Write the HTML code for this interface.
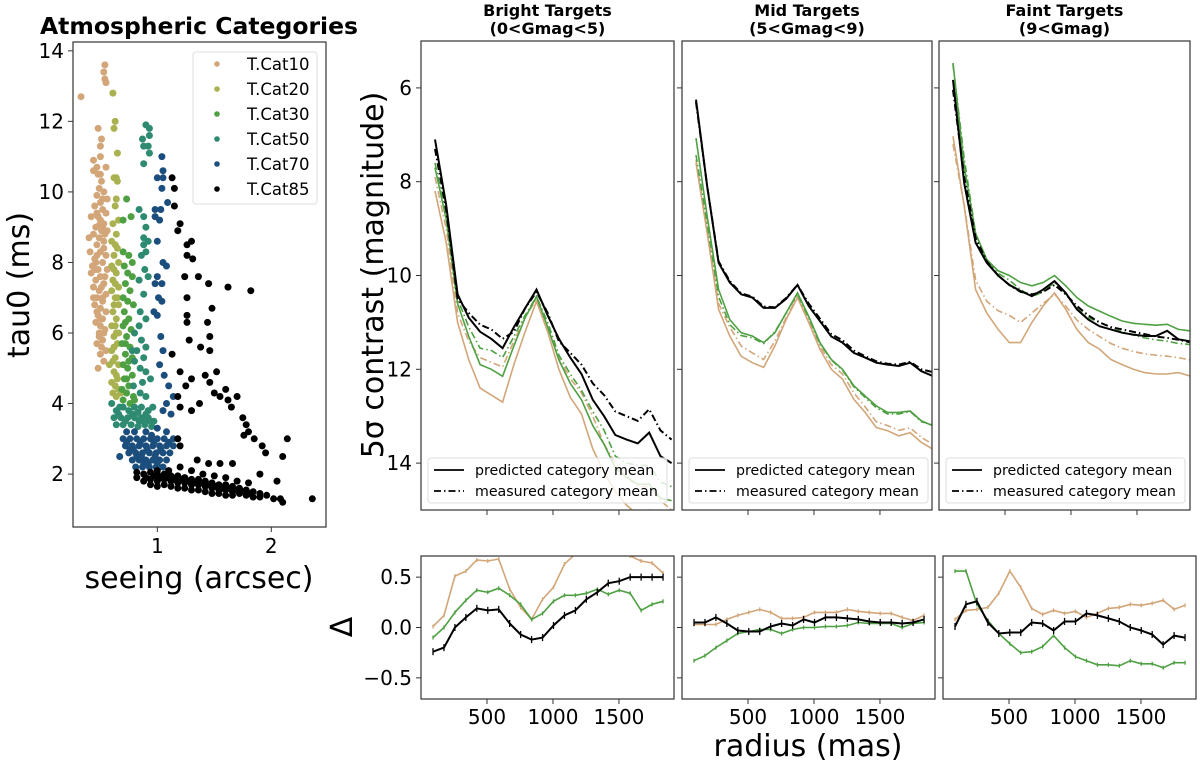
<!DOCTYPE html>
<html><head><meta charset="utf-8">
<style>
html,body{margin:0;padding:0;background:#fff;}
svg{display:block;font-family:"DejaVu Sans","Liberation Sans",sans-serif;}
</style></head>
<body>
<svg id="fig" width="1200" height="763" viewBox="0 0 1200 763" xmlns="http://www.w3.org/2000/svg"></svg>
<script>
// ---------- scatter data (seeing arcsec, tau0 ms) ----------
const catNames = ["T.Cat10","T.Cat20","T.Cat30","T.Cat50","T.Cat70","T.Cat85"];
const catColors = ["#d2a679","#a9b150","#4fa043","#2e8a70","#1c4e7d","#000000"];
const cat10 = [0.33,12.7,0.54,13.6,0.53,13.4,0.54,13.2,0.55,13.1,0.48,11.8,0.51,11.5,0.5,11.3,0.5,11.0,0.44,10.9,0.47,10.7,0.55,10.7,0.44,10.6,0.48,10.5,0.51,10.3,0.49,10.1,0.53,10.0,0.47,9.9,0.56,9.8,0.5,9.7,0.45,9.6,0.52,9.5,0.55,9.4,0.48,9.3,0.42,9.3,0.5,9.2,0.53,9.1,0.46,9.0,0.51,8.9,0.56,8.9,0.44,8.8,0.4,8.7,0.49,8.7,0.53,8.6,0.47,8.5,0.41,8.3,0.5,8.3,0.55,8.2,0.45,8.1,0.52,8.0,0.43,7.9,0.48,7.8,0.56,7.8,0.42,7.7,0.5,7.6,0.46,7.5,0.53,7.4,0.44,7.3,0.49,7.2,0.55,7.1,0.47,7.0,0.52,6.9,0.45,6.8,0.5,6.7,0.55,6.6,0.48,6.5,0.52,6.4,0.46,6.3,0.5,6.2,0.54,6.1,0.49,6.0,0.52,5.8,0.47,5.7,0.51,5.6,0.55,5.5,0.5,5.4,0.53,5.2,0.48,5.0,0.52,9.0,0.47,9.4,0.53,8.4,0.46,8.0,0.51,7.3,0.47,6.6,0.53,6.0,0.49,5.9,0.54,7.6,0.44,7.0,0.5,10.5,0.52,9.8,0.49,9.05,0.47,8.2,0.52,7.0,0.5,6.4,0.46,7.8,0.54,8.8];
const cat20 = [0.61,12.8,0.63,12.0,0.62,11.8,0.65,11.1,0.62,10.4,0.65,10.3,0.64,10.4,0.64,9.8,0.63,9.6,0.66,9.2,0.61,9.1,0.64,8.8,0.6,8.6,0.65,8.4,0.62,8.2,0.66,8.0,0.6,7.9,0.64,7.7,0.61,7.5,0.66,7.3,0.6,7.2,0.63,7.0,0.66,6.8,0.61,6.6,0.64,6.4,0.6,6.2,0.66,6.0,0.62,5.9,0.65,5.7,0.6,5.5,0.63,5.3,0.66,5.1,0.58,5.1,0.62,4.9,0.65,4.7,0.6,4.6,0.63,4.5,0.66,4.4,0.61,4.3,0.64,4.2,0.68,4.3,0.63,8.5,0.62,7.8,0.65,7.0,0.63,6.2,0.62,5.6,0.64,4.8,0.63,7.4,0.62,6.8,0.64,6.0,0.61,5.2];
const cat30 = [0.73,9.8,0.7,9.2,0.77,9.3,0.75,8.2,0.7,8.3,0.78,8.0,0.71,7.9,0.74,7.7,0.78,7.6,0.72,7.4,0.76,7.2,0.7,7.0,0.74,6.9,0.79,6.8,0.71,6.6,0.75,6.4,0.7,6.2,0.77,6.1,0.73,5.9,0.69,5.7,0.76,5.6,0.72,5.4,0.78,5.3,0.7,5.1,0.74,5.0,0.78,4.8,0.71,4.7,0.75,4.5,0.69,4.4,0.73,4.3,0.79,4.2,0.7,4.1,0.76,4.0,0.8,4.1,0.72,5.7,0.75,5.2,0.73,4.7,0.72,6.3];
const cat50 = [0.9,11.9,0.93,11.8,0.93,11.6,0.87,11.5,0.88,11.3,0.92,11.3,0.93,11.1,0.88,10.8,0.84,9.5,0.88,9.3,0.9,9.0,0.88,8.7,0.92,8.6,0.88,8.5,0.9,8.3,0.86,8.2,0.89,7.8,0.92,7.6,0.84,7.5,0.88,7.1,0.85,6.6,0.9,6.4,0.84,6.2,0.8,6.0,0.86,5.8,0.9,5.6,0.82,5.5,0.88,5.3,0.78,5.5,0.8,5.2,0.85,5.0,0.9,4.9,0.94,4.7,0.6,4.0,0.64,3.8,0.7,3.9,0.75,3.8,0.8,3.9,0.86,3.9,0.92,3.8,0.96,3.9,0.62,3.6,0.68,3.6,0.74,3.6,0.8,3.6,0.86,3.6,0.92,3.6,0.97,3.5,0.64,3.4,0.7,3.4,0.77,3.4,0.83,3.35,0.89,3.4,0.95,3.35,0.85,4.3,0.9,4.2,0.79,4.5,0.87,4.6,0.66,3.7,0.72,3.5,0.78,3.7,0.84,3.5,0.9,3.7,0.94,3.5,0.67,3.9,0.83,3.75,0.89,3.5];
const cat70 = [1.04,11.0,1.05,10.6,1.0,10.4,1.05,10.4,1.04,10.1,1.09,9.7,0.98,9.5,1.03,9.5,0.98,9.3,1.02,9.2,1.0,8.6,1.05,8.0,1.08,7.9,1.0,7.6,1.04,7.4,0.98,7.4,1.01,7.0,1.04,6.9,0.97,6.6,1.0,6.5,1.03,5.9,1.05,5.5,1.02,5.1,1.06,4.8,1.1,4.5,1.14,4.2,1.08,4.0,1.12,3.7,1.05,3.8,1.0,3.3,0.95,3.1,1.08,3.2,1.14,3.0,0.7,3.0,0.76,3.0,0.82,3.0,0.88,3.0,0.94,3.0,1.0,3.0,1.06,3.0,0.72,2.8,0.78,2.8,0.84,2.8,0.9,2.8,0.96,2.8,1.02,2.8,1.08,2.8,1.14,2.8,0.75,2.6,0.81,2.6,0.87,2.6,0.93,2.6,0.99,2.6,1.05,2.6,1.11,2.6,0.78,2.4,0.84,2.4,0.9,2.4,0.96,2.4,1.02,2.4,1.08,2.4,0.81,2.2,0.87,2.2,0.93,2.2,0.99,2.2,1.05,2.2,0.67,2.5,0.73,3.2,0.8,3.2,0.9,3.2,0.85,2.9,0.97,2.9,0.79,2.7,0.91,2.7,1.03,2.7,0.86,2.5,0.98,2.5,0.92,2.3,0.73,2.9,0.76,2.7,0.82,2.5,0.88,2.3,1.0,2.3,1.1,2.9];
const cat85 = [1.13,10.4,1.15,10.1,1.15,9.6,1.2,9.1,1.18,8.9,1.26,8.5,1.3,8.6,1.26,8.2,1.31,8.1,1.24,7.6,1.36,7.6,1.45,7.4,1.62,7.3,1.82,7.2,1.26,7.0,1.48,6.7,1.26,6.5,1.26,6.3,1.44,6.3,1.28,5.8,1.38,5.6,1.46,5.9,1.46,5.5,1.13,5.4,1.2,4.9,1.3,4.7,1.42,4.8,1.52,4.9,1.46,4.6,1.6,4.4,1.5,4.3,1.55,4.2,1.62,4.1,1.7,4.2,1.25,4.5,1.18,4.2,1.2,3.9,1.3,3.8,1.37,4.0,1.65,3.9,1.75,3.6,1.78,3.4,1.8,3.2,1.76,3.1,1.85,3.0,1.92,2.8,1.95,2.6,2.14,3.0,2.1,2.5,1.18,3.0,1.2,2.8,1.35,2.4,1.45,2.3,1.55,2.3,1.66,2.3,1.9,2.0,2.05,1.8,2.36,1.3,2.1,1.2,2.08,1.3,0.82,2.05,0.82,1.9,0.88,2.0,0.88,1.8,0.94,2.05,0.94,1.85,0.94,1.7,1.0,2.0,1.0,1.8,1.0,1.65,1.06,2.0,1.06,1.85,1.06,1.7,1.12,1.95,1.12,1.8,1.12,1.65,1.18,1.95,1.18,1.75,1.18,1.6,1.24,1.9,1.24,1.75,1.24,1.6,1.3,1.85,1.3,1.7,1.3,1.55,1.36,1.85,1.36,1.7,1.36,1.55,1.42,1.8,1.42,1.65,1.42,1.5,1.48,1.75,1.48,1.6,1.48,1.45,1.54,1.7,1.54,1.55,1.54,1.45,1.6,1.7,1.6,1.55,1.6,1.4,1.66,1.65,1.66,1.5,1.66,1.4,1.72,1.6,1.72,1.45,1.78,1.55,1.78,1.4,1.84,1.5,1.84,1.35,1.9,1.45,1.9,1.35,1.96,1.4,2.02,1.3,0.9,1.9,0.97,1.95,1.03,1.9,1.09,1.9,1.15,1.85,1.21,1.85,1.27,1.8,1.33,1.75,1.39,1.75,1.45,1.7,1.51,1.65,1.57,1.6,1.63,1.6,1.69,1.55,1.75,1.5,1.81,1.45,1.2,2.2,1.3,2.1,1.4,2.0,1.5,1.95,1.6,1.9,1.7,1.8,1.8,1.75,1.1,2.1,1.0,2.1];
const catData = [cat10,cat20,cat30,cat50,cat70,cat85];

// ---------- contrast curves ----------
const radiiTop = [106,191,277,362,448,533,618,704,789,875,960,1045,1131,1216,1302,1387,1472,1558,1643,1729,1814,1899];
const radiiBot = [91,174,257,340,423,506,589,672,755,838,921,1004,1087,1170,1253,1336,1419,1502,1585,1668,1751,1834];
const panelTitles = [["Bright Targets","(0<Gmag<5)"],["Mid Targets","(5<Gmag<9)"],["Faint Targets","(9<Gmag)"]];
const p1BlackPred = [7.1,8.5,10.4,10.9,11.2,11.35,11.55,11.1,10.7,10.3,10.85,11.35,11.75,12.1,12.65,13.0,13.4,13.5,13.58,13.35,13.85,14.0];
const p1BlackMeas = [7.3,8.6,10.5,10.8,11.05,11.15,11.35,11.2,10.7,10.35,10.8,11.4,11.65,11.9,12.3,12.55,12.9,13.0,13.1,12.85,13.3,13.5];
const p1GreenPred = [7.7,8.8,10.6,11.3,11.9,12.0,12.15,11.5,10.9,10.45,11.1,11.8,12.3,12.65,13.2,13.6,14.1,14.3,14.45,14.45,14.75,14.8];
const p1GreenMeas = [7.6,8.7,10.5,11.1,11.55,11.6,11.75,11.3,10.85,10.45,11.0,11.7,12.1,12.45,12.9,13.3,13.85,14.0,14.05,14.05,14.4,14.5];
const p1TanPred = [8.2,9.3,11.0,11.8,12.4,12.55,12.7,11.9,11.2,10.55,11.2,12.0,12.6,12.95,13.7,14.2,14.6,14.9,15.1,15.0,15.4,15.6];
const p1TanMeas = [7.9,9.0,10.8,11.4,11.75,11.85,11.95,11.4,10.9,10.5,11.05,11.75,12.2,12.5,13.0,13.6,14.0,14.3,14.5,14.5,14.8,15.0];
const p2BlackPred = [6.25,8.1,9.73,10.15,10.4,10.47,10.69,10.69,10.5,10.2,10.65,10.97,11.3,11.43,11.65,11.75,11.86,11.9,11.93,11.86,12.04,12.14];
const p2BlackMeas = [6.3,8.1,9.7,10.12,10.38,10.45,10.66,10.68,10.48,10.2,10.6,10.92,11.25,11.38,11.6,11.72,11.83,11.88,11.9,11.84,12.0,12.06];
const p2GreenPred = [7.07,8.74,10.3,10.94,11.22,11.29,11.43,11.22,10.8,10.37,10.87,11.43,11.79,12.0,12.35,12.57,12.78,12.92,12.92,12.89,13.1,13.2];
const p2GreenMeas = [7.43,8.9,10.45,11.05,11.28,11.33,11.45,11.2,10.8,10.4,10.9,11.45,11.8,12.02,12.37,12.6,12.82,12.95,12.95,12.9,13.12,13.18];
const p2TanPred = [7.6,9.1,10.72,11.29,11.72,11.86,11.96,11.5,10.94,10.47,11.0,11.57,12.0,12.21,12.64,12.92,13.24,13.31,13.42,13.35,13.56,13.7];
const p2TanMeas = [7.53,9.0,10.6,11.1,11.5,11.65,11.79,11.4,10.9,10.45,10.95,11.5,11.9,12.1,12.5,12.8,13.12,13.2,13.3,13.25,13.45,13.6];
const p3BlackPred = [5.83,8.03,9.3,9.73,10.0,10.2,10.33,10.44,10.3,10.12,10.37,10.72,10.94,11.08,11.15,11.22,11.26,11.29,11.29,11.18,11.36,11.4];
const p3BlackMeas = [6.04,7.9,9.2,9.7,10.0,10.2,10.35,10.4,10.35,10.2,10.4,10.65,10.85,11.0,11.1,11.15,11.2,11.25,11.3,11.33,11.37,11.42];
const p3GreenPred = [5.47,7.67,9.1,9.66,9.9,10.0,10.15,10.22,10.15,10.0,10.22,10.47,10.65,10.76,10.87,10.97,11.02,11.04,11.06,11.04,11.15,11.18];
const p3GreenMeas = [5.5,7.5,9.1,9.7,9.95,10.1,10.3,10.45,10.35,10.15,10.4,10.7,10.9,11.0,11.1,11.2,11.27,11.33,11.37,11.4,11.45,11.47];
const p3TanPred = [7.03,8.52,10.3,10.8,11.15,11.43,11.43,11.0,10.65,10.37,10.72,11.15,11.43,11.57,11.79,11.9,12.0,12.07,12.1,12.1,12.07,12.14];
const p3TanMeas = [7.2,8.5,10.1,10.55,10.75,10.85,11.0,10.8,10.6,10.4,10.65,10.95,11.15,11.3,11.45,11.55,11.62,11.67,11.7,11.72,11.75,11.8];
const d1Black = [-0.24,-0.2,0.0,0.1,0.19,0.17,0.18,0.04,-0.07,-0.12,-0.1,0.02,0.12,0.17,0.28,0.35,0.44,0.46,0.5,0.5,0.5,0.5];
const d1Green = [-0.1,0.0,0.15,0.27,0.37,0.35,0.39,0.32,0.23,0.08,0.14,0.26,0.32,0.32,0.34,0.38,0.33,0.37,0.34,0.17,0.23,0.26];
const d1Tan = [0.01,0.12,0.51,0.56,0.67,0.66,0.68,0.38,0.2,0.08,0.28,0.4,0.63,0.73,0.8,0.85,0.85,0.8,0.71,0.66,0.64,0.54];
const d2Black = [0.05,0.05,0.1,0.04,-0.03,-0.04,-0.04,0.01,0.04,0.02,0.08,0.05,0.1,0.1,0.09,0.08,0.06,0.05,0.05,0.04,0.05,0.08];
const d2Green = [-0.33,-0.28,-0.2,-0.13,-0.06,-0.04,-0.02,-0.02,-0.06,-0.02,0.0,0.0,0.01,0.01,0.02,0.05,0.04,0.04,0.04,0.0,0.04,0.05];
const d2Tan = [0.03,0.03,0.03,0.08,0.12,0.15,0.18,0.15,0.09,0.09,0.1,0.15,0.15,0.15,0.18,0.16,0.15,0.14,0.14,0.1,0.07,0.12];
const d3Black = [0.01,0.23,0.26,0.05,-0.06,-0.05,-0.05,0.05,0.04,-0.03,0.06,0.06,0.14,0.12,0.09,0.06,0.0,-0.03,-0.07,-0.17,-0.08,-0.1];
const d3Green = [0.56,0.56,0.23,0.07,-0.06,-0.16,-0.25,-0.24,-0.19,-0.08,-0.2,-0.29,-0.33,-0.37,-0.37,-0.38,-0.33,-0.36,-0.36,-0.4,-0.35,-0.35];
const d3Tan = [0.08,0.17,0.18,0.2,0.34,0.56,0.4,0.19,0.13,0.17,0.14,0.16,0.1,0.14,0.19,0.2,0.23,0.22,0.24,0.27,0.18,0.22];
const magTicks = [6,8,10,12,14];
const deltaTicks = [0.5,0.0,-0.5];
const deltaTickLabels = ["0.5","0.0","\u22120.5"];
const radiusTicks = [500,1000,1500];
const tauTicks = [2,4,6,8,10,12,14];
const seeingTicks = [1,2];

const svg = document.getElementById('fig');
const NS = "http://www.w3.org/2000/svg";
const TICKFONT = 20;
function mk(tag, attrs, parent){
  const e = document.createElementNS(NS, tag);
  for (const k in attrs) e.setAttribute(k, attrs[k]);
  (parent||svg).appendChild(e);
  return e;
}
function txt(s, x, y, size, anchor, parent, extra){
  const t = mk('text', Object.assign({x:x, y:y, 'font-size':size, 'text-anchor':anchor||'middle', fill:'#000'}, extra||{}), parent);
  t.textContent = s;
  return t;
}
function lin(d0,d1,r0,r1){ return v => r0 + (v-d0)*(r1-r0)/(d1-d0); }

// ---------- scatter panel ----------
const sc = mk('g', {});


const sx = lin(0.26, 2.48, 73, 326);
const sy = lin(0.5, 14.25, 527, 42);
const clipS = mk('clipPath', {id:'clipS'}); mk('rect',{x:73,y:42,width:253,height:485},clipS);
const dots = mk('g', {'clip-path':'url(#clipS)'}, sc);
catData.forEach((arr, ci) => {
  const g = mk('g', {fill:catColors[ci]}, dots);
  
  
  for (let i=0;i<arr.length;i+=2){
    mk('circle', {cx:sx(arr[i]).toFixed(1), cy:sy(arr[i+1]).toFixed(1), r:3.5}, g);
  }
});
mk('rect', {x:73,y:42,width:253,height:485,fill:'none',stroke:'#333','stroke-width':1.2}, sc);
tauTicks.forEach(t => {
  mk('line',{x1:68,x2:73,y1:sy(t),y2:sy(t),stroke:'#333'},sc);
  const l = txt(String(t), 64, sy(t)+7, TICKFONT, 'end', sc);
  
  
});
seeingTicks.forEach(t => {
  mk('line',{x1:sx(t),x2:sx(t),y1:527,y2:532,stroke:'#333'},sc);
  const l = txt(String(t), sx(t), 553, TICKFONT, 'middle', sc);
  
  
});
let t1 = txt('Atmospheric Categories', 199, 34, 23.5, 'middle', sc, {'font-weight':'bold'});
 
let t2 = txt('seeing (arcsec)', 199, 588, 30, 'middle', sc);
 
let t3 = txt('tau0 (ms)', 0, 0, 30, 'middle', sc, {transform:'translate(29,285) rotate(-90)'});
 
const lg = mk('g', {}, sc);
 
mk('rect',{x:193,y:52,width:124,height:152,rx:3,fill:'#fff',stroke:'#ddd'},lg);
catNames.forEach((n,i)=>{
  const y = 64 + i*25;
  mk('circle',{cx:217,cy:y,r:2.8,fill:catColors[i]},lg);
  const e = txt(n, 247, y+6, 16.5, 'start', lg);
  
  
});

// ---------- contrast panels ----------
const topPanels = [
  {l:421,r:674, series:[[p1TanPred,p1TanMeas],[p1GreenPred,p1GreenMeas],[p1BlackPred,p1BlackMeas]], delta:[d1Tan,d1Green,d1Black], bl:421, br:674},
  {l:682,r:932, series:[[p2TanPred,p2TanMeas],[p2GreenPred,p2GreenMeas],[p2BlackPred,p2BlackMeas]], delta:[d2Tan,d2Green,d2Black], bl:682, br:935},
  {l:939,r:1190, series:[[p3TanPred,p3TanMeas],[p3GreenPred,p3GreenMeas],[p3BlackPred,p3BlackMeas]], delta:[d3Tan,d3Green,d3Black], bl:943, br:1196}
];
const lineColors = ["#d2a679","#4fa043","#000000"];
const colorNames = ["tan","green","black"];
const TOP=41, BOT=510, DT=556, DB=699;
topPanels.forEach((p, pi) => {
  const g = mk('g', {});
  
  
  const xs = lin(0, 1917, p.l, p.l+253);
  const y = lin(5, 15, TOP, BOT);
  const cid = 'clipT'+pi;
  const cp = mk('clipPath',{id:cid}); mk('rect',{x:p.l,y:TOP,width:p.r-p.l,height:BOT-TOP},cp);
  const lg2 = mk('g',{'clip-path':'url(#'+cid+')'},g);
  p.series.forEach((pair, ci) => {
    pair.forEach((vals, k) => {
      const pts = vals.map((v,i)=> xs(radiiTop[i]).toFixed(1)+','+y(v).toFixed(1)).join(' ');
      const pl = mk('polyline',{points:pts,fill:'none',stroke:lineColors[ci],'stroke-width':ci===2?2:1.6,'stroke-dasharray':k===1?'7,3,1.5,3':'none'},lg2);
      
      
    });
  });
  mk('rect',{x:p.l,y:TOP,width:p.r-p.l,height:BOT-TOP,fill:'none',stroke:'#333','stroke-width':1.2},g);
  magTicks.forEach(t => {
    mk('line',{x1:p.l-5,x2:p.l,y1:y(t),y2:y(t),stroke:'#333'},g);
    if (pi===0){
      const l = txt(String(t), p.l-9, y(t)+7, TICKFONT, 'end', g);
      
      
    }
  });
  radiusTicks.forEach(t => mk('line',{x1:xs(t),x2:xs(t),y1:BOT,y2:BOT+5,stroke:'#333'},g));
  const tt = txt(panelTitles[pi][0], (p.l+p.r)/2, 16, 16, 'middle', g, {'font-weight':'bold'});
   
  txt(panelTitles[pi][1], (p.l+p.r)/2, 34, 16, 'middle', g, {'font-weight':'bold'});
  const L = mk('g',{},g);
   
  mk('rect',{x:p.l+7,y:458,width:239,height:45,rx:3,fill:'#fff','fill-opacity':0.8,stroke:'#ddd'},L);
  mk('line',{x1:p.l+13,x2:p.l+43,y1:470,y2:470,stroke:'#000','stroke-width':1.8},L);
  mk('line',{x1:p.l+13,x2:p.l+43,y1:491,y2:491,stroke:'#000','stroke-width':1.8,'stroke-dasharray':'7,3,1.5,3'},L);
  txt('predicted category mean', p.l+54, 475, 14.2, 'start', L);
  txt('measured category mean', p.l+54, 496, 14.2, 'start', L);

  const gd = mk('g',{});
  
  
  const xd = lin(0, 1917*(p.br-p.bl)/253, p.bl, p.br);
  const yd = lin(0.71, -0.71, DT, DB);
  const cid2 = 'clipD'+pi;
  const cp2 = mk('clipPath',{id:cid2}); mk('rect',{x:p.bl,y:DT,width:p.br-p.bl,height:DB-DT},cp2);
  const dg = mk('g',{'clip-path':'url(#'+cid2+')'},gd);
  p.delta.forEach((vals, ci) => {
    const pts = vals.map((v,i)=> xd(radiiBot[i]).toFixed(1)+','+yd(v).toFixed(1)).join(' ');
    const pl = mk('polyline',{points:pts,fill:'none',stroke:lineColors[ci],'stroke-width':ci===2?2:1.6},dg);
    
    
    vals.forEach((v,i)=>{
      const e = ci===2?0.035:0.02;
      mk('line',{x1:xd(radiiBot[i]),x2:xd(radiiBot[i]),y1:yd(v+e),y2:yd(v-e),stroke:lineColors[ci],'stroke-width':1.3},dg);
    });
  });
  mk('rect',{x:p.bl,y:DT,width:p.br-p.bl,height:DB-DT,fill:'none',stroke:'#333','stroke-width':1.2},gd);
  deltaTicks.forEach((t,i) => {
    mk('line',{x1:p.bl-5,x2:p.bl,y1:yd(t),y2:yd(t),stroke:'#333'},gd);
    if (pi===0){
      const l = txt(deltaTickLabels[i], p.bl-9, yd(t)+7, TICKFONT, 'end', gd);
      
      
    }
  });
  radiusTicks.forEach(t => {
    mk('line',{x1:xd(t),x2:xd(t),y1:DB,y2:DB+5,stroke:'#333'},gd);
    const l = txt(String(t), xd(t), 724, TICKFONT, 'middle', gd);
    
    
  });
});
let t4 = txt('5\u03c3 contrast (magnitude)', 0, 0, 30, 'middle', svg, {transform:'translate(383,275) rotate(-90)'});
 
let t5 = txt('\u0394', 0, 0, 30, 'middle', svg, {transform:'translate(352,627) rotate(-90)'});
 
let t6 = txt('radius (mas)', 808, 756, 30, 'middle');
 
</script>
</body></html>
